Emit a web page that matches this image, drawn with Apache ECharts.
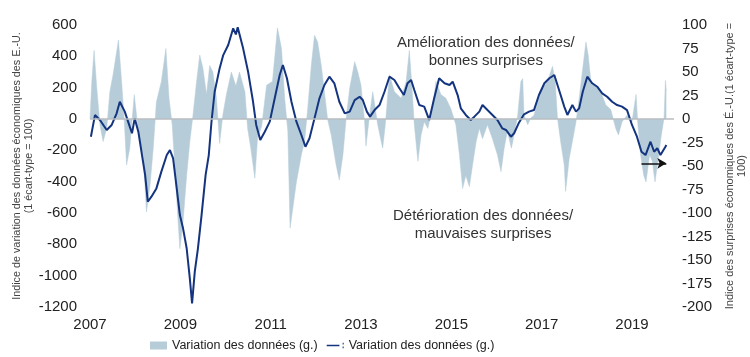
<!DOCTYPE html>
<html>
<head>
<meta charset="utf-8">
<script src="https://cdn.jsdelivr.net/npm/echarts@6/dist/echarts.min.js"></script>
<style>
html,body{margin:0;padding:0;background:#fff;}
#chart{width:750px;height:357px;}
</style>
</head>
<body>
<div id="chart"></div>
<script>
// ---- Data (decimal years) ----
// Dark line: left axis (index of data variation)
const lineYears = [2007.02,2007.11,2007.22,2007.37,2007.48,2007.59,2007.66,2007.77,2007.88,2007.93,2007.99,2008.07,2008.14,2008.22,2008.28,2008.36,2008.47,2008.58,2008.70,2008.77,2008.84,2008.92,2008.99,2009.06,2009.14,2009.21,2009.26,2009.32,2009.39,2009.47,2009.56,2009.63,2009.69,2009.76,2009.87,2009.95,2010.06,2010.17,2010.23,2010.27,2010.39,2010.50,2010.61,2010.68,2010.77,2010.87,2010.98,2011.09,2011.20,2011.27,2011.36,2011.46,2011.57,2011.68,2011.77,2011.86,2011.97,2012.08,2012.19,2012.30,2012.41,2012.52,2012.64,2012.75,2012.86,2012.97,2013.04,2013.13,2013.20,2013.30,2013.41,2013.52,2013.63,2013.74,2013.85,2013.95,2014.03,2014.11,2014.18,2014.29,2014.40,2014.51,2014.62,2014.73,2014.85,2014.96,2015.03,2015.14,2015.21,2015.32,2015.43,2015.51,2015.62,2015.69,2015.80,2015.91,2016.02,2016.13,2016.21,2016.32,2016.39,2016.50,2016.61,2016.72,2016.83,2016.94,2017.06,2017.17,2017.28,2017.35,2017.42,2017.50,2017.57,2017.68,2017.76,2017.83,2017.91,2018.01,2018.12,2018.23,2018.34,2018.45,2018.56,2018.67,2018.78,2018.89,2019.00,2019.11,2019.21,2019.30,2019.41,2019.49,2019.56,2019.63,2019.74,2019.76];
const lineValues = [-113,25,-6,-70,-38,36,110,47,-49,-91,4,-81,-209,-357,-528,-496,-443,-336,-230,-198,-251,-443,-613,-698,-825,-1017,-1177,-974,-826,-613,-357,-230,-17,174,323,408,472,579,540,585,451,302,110,-38,-134,-81,-17,132,281,345,260,110,-17,-102,-177,-123,4,132,217,270,228,110,36,47,121,142,121,47,15,57,89,174,270,249,196,153,228,249,185,89,79,-6,132,260,228,217,238,153,68,26,-6,15,47,89,57,26,-6,-60,-70,-113,-91,-22,30,47,57,153,228,260,281,217,153,79,26,89,47,68,174,270,228,206,164,142,110,89,79,57,-38,-113,-209,-230,-145,-209,-187,-230,-177,-166];

// Light area: right axis (economic surprise index)
const areaYears = [2007.00,2007.04,2007.09,2007.15,2007.22,2007.29,2007.37,2007.44,2007.51,2007.63,2007.70,2007.76,2007.81,2007.88,2007.98,2008.03,2008.10,2008.18,2008.25,2008.33,2008.40,2008.47,2008.58,2008.68,2008.75,2008.82,2008.88,2008.95,2008.99,2009.06,2009.14,2009.21,2009.28,2009.36,2009.43,2009.50,2009.58,2009.65,2009.72,2009.80,2009.87,2009.94,2010.02,2010.13,2010.23,2010.31,2010.43,2010.49,2010.56,2010.65,2010.71,2010.80,2010.91,2011.04,2011.15,2011.24,2011.31,2011.38,2011.43,2011.57,2011.68,2011.75,2011.82,2011.90,2011.97,2012.04,2012.12,2012.19,2012.26,2012.34,2012.45,2012.52,2012.60,2012.67,2012.75,2012.86,2012.93,2013.00,2013.08,2013.11,2013.19,2013.26,2013.37,2013.43,2013.48,2013.54,2013.63,2013.74,2013.89,2014.00,2014.07,2014.12,2014.18,2014.26,2014.33,2014.40,2014.48,2014.59,2014.66,2014.77,2014.88,2014.99,2015.10,2015.18,2015.25,2015.32,2015.40,2015.47,2015.55,2015.62,2015.69,2015.80,2015.91,2016.02,2016.10,2016.17,2016.24,2016.33,2016.39,2016.47,2016.54,2016.58,2016.61,2016.69,2016.76,2016.83,2016.91,2017.02,2017.13,2017.24,2017.30,2017.35,2017.42,2017.50,2017.53,2017.61,2017.68,2017.76,2017.83,2017.91,2017.98,2018.03,2018.09,2018.20,2018.31,2018.42,2018.53,2018.64,2018.70,2018.78,2018.89,2019.00,2019.09,2019.13,2019.19,2019.26,2019.31,2019.39,2019.45,2019.51,2019.58,2019.65,2019.71,2019.74,2019.76];
const areaValues = [0,40,73,33,-6,-24,-10,29,47,84,40,-3,-49,-31,26,4,-24,-38,-99,-70,-31,18,40,75,22,-6,-52,-109,-138,-109,-60,-24,4,40,68,54,26,57,50,22,-26,4,26,50,35,50,29,-10,-31,-63,-20,-8,36,40,97,75,22,-13,-116,-67,-38,-24,11,57,89,82,57,29,0,-17,-49,-65,-38,0,33,61,50,36,-3,-29,4,29,-6,-20,-31,-5,47,29,22,40,73,40,-6,-45,-17,-3,-10,15,40,26,22,11,-6,-38,-74,-60,-72,-49,-24,-10,-21,-6,-21,-38,-56,-31,-13,-31,-17,4,40,43,4,-6,1,4,18,33,40,56,40,1,-24,-49,-77,-42,-24,-3,22,54,82,68,40,34,29,15,10,-10,-17,-3,4,-3,26,-6,-38,-60,-67,-38,-45,-67,-42,-17,1,41,30];

// Tick labels shown on the time axis
const yearLabels = [2007, 2009, 2011, 2013, 2015, 2017, 2019];

// Arrow annotation (left-axis units)
const arrowFrom = 2019.21, arrowTo = 2019.76, arrowLevel = -283;

const areaName = 'Variation des données (g.)';
const lineName = 'Variation des données (g.) ';

const FONT = "'Liberation Sans', Arial, sans-serif";

const chart = echarts.init(document.getElementById('chart'), null, {renderer: 'canvas'});
chart.setOption({
  animation: false,
  backgroundColor: '#ffffff',
  textStyle: {fontFamily: FONT},
  grid: {left: 90, right: 76, top: 25, bottom: 50, containLabel: false, outerBoundsMode: 'none'},
  legend: {
    left: 145, top: 334,
    itemWidth: 17, itemHeight: 8, itemGap: 9,
    textStyle: {fontSize: 12.5, color: '#222', fontFamily: FONT},
    data: [
      {name: areaName, icon: 'rect'},
      {name: lineName, icon: 'path://M0,3.4L12,3.4L12,4.8L0,4.8Z M15,1.5L16,1.5L16,3.3L15,3.3Z M15,5L16,5L16,6.8L15,6.8Z'}
    ]
  },
  xAxis: {
    type: 'value', min: 2007, max: 2019.93, interval: 1,
    axisLine: {show: false}, axisTick: {show: false}, splitLine: {show: false},
    axisLabel: {
      fontSize: 15, color: '#222', margin: 10, fontFamily: FONT,
      formatter: v => yearLabels.includes(v) ? String(v) : ''
    }
  },
  yAxis: [
    {
      type: 'value', min: -1200, max: 600, interval: 200, position: 'left',
      axisLine: {show: false}, axisTick: {show: false}, splitLine: {show: false},
      axisLabel: {fontSize: 15, color: '#222', margin: 13, fontFamily: FONT, formatter: v => String(v)},
      name: 'Indice de variation des données économiques des E.-U.\n(1 écart-type = 100)',
      nameLocation: 'middle', nameRotate: 90, nameGap: 55, nameMoveOverlap: false,
      nameTextStyle: {fontSize: 10.8, color: '#444', lineHeight: 12, fontFamily: FONT, align: 'center'}
    },
    {
      type: 'value', min: -200, max: 100, interval: 25, position: 'right',
      axisLine: {show: false}, axisTick: {show: false}, splitLine: {show: false},
      axisLabel: {fontSize: 15, color: '#222', margin: 8, fontFamily: FONT, formatter: v => String(v)},
      name: 'Indice des surprises économiques des É.-U.(1 écart-type =\n100)',
      nameLocation: 'middle', nameRotate: 90, nameGap: 50,
      nameTextStyle: {fontSize: 11, color: '#444', lineHeight: 12, fontFamily: FONT, align: 'center'}
    }
  ],
  graphic: [
    {type: 'text', left: 487 - 90, top: 34, style: {text: 'Amélioration des données/\nbonnes surprises', fill: '#333', font: '15px ' + FONT, textAlign: 'center', lineHeight: 18}},
    {type: 'text', left: 483 - 90, top: 207, style: {text: 'Détérioration des données/\nmauvaises surprises', fill: '#333', font: '15px ' + FONT, textAlign: 'center', lineHeight: 18}}
  ],
  series: [
    {
      name: areaName, type: 'line', yAxisIndex: 1, z: 1,
      data: areaYears.map((y, i) => [y, areaValues[i]]),
      symbol: 'none', showSymbol: false,
      lineStyle: {width: 0.5, color: '#b6cdd9'},
      itemStyle: {color: '#b6cdd9'},
      areaStyle: {color: '#b6cdd9', opacity: 1},
      markLine: {
        silent: true, symbol: ['none', 'none'], label: {show: false},
        lineStyle: {color: '#b7bcc0', width: 1.5, type: 'solid'},
        data: [{yAxis: 0}]
      }
    },
    {
      name: lineName, type: 'line', yAxisIndex: 0, z: 3,
      data: lineYears.map((y, i) => [y, lineValues[i]]),
      symbol: 'none', showSymbol: false,
      lineStyle: {width: 2, color: '#14347f'},
      itemStyle: {color: '#14347f'},
      markLine: {
        silent: true, symbol: ['none', 'arrow'], symbolSize: [8, 9], label: {show: false},
        lineStyle: {color: '#111', width: 1.5, type: 'solid'},
        data: [[{coord: [arrowFrom, arrowLevel]}, {coord: [arrowTo, arrowLevel]}]]
      }
    }
  ]
});
</script>
</body>
</html>
